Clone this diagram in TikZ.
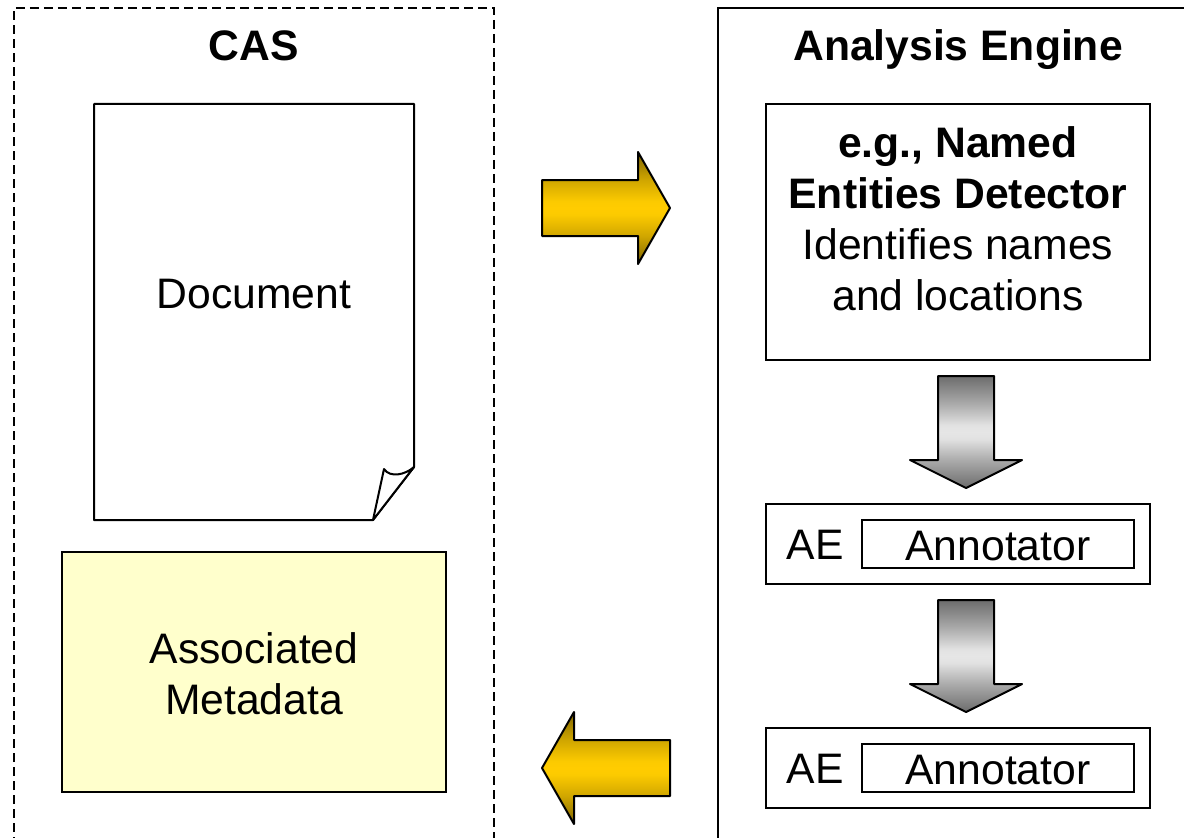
\documentclass[tikz,border=0pt]{standalone}
\usepackage{fontspec}
\setmainfont{Liberation Sans}
\definecolor{metafill}{HTML}{FFFFCC}
\definecolor{golddark}{HTML}{806600}
\definecolor{goldedge}{HTML}{D0A600}
\definecolor{goldnear}{HTML}{FCCA00}
\definecolor{goldmid}{HTML}{FFCC00}
\definecolor{greydark}{HTML}{6C6C6C}
\definecolor{greyedge}{HTML}{ABABAB}
\definecolor{greynear}{HTML}{E2E2E2}
\definecolor{greymid}{HTML}{E6E6E6}
\pgfdeclareverticalshading{goldshade}{100bp}{color(0bp)=(golddark); color(25bp)=(golddark); color(37.5bp)=(goldedge); color(47bp)=(goldnear); color(50bp)=(goldmid); color(53bp)=(goldnear); color(62.5bp)=(goldedge); color(75bp)=(golddark); color(100bp)=(golddark)}
\pgfdeclareverticalshading{greyshade}{100bp}{color(0bp)=(greydark); color(25bp)=(greydark); color(37.5bp)=(greyedge); color(47bp)=(greynear); color(50bp)=(greymid); color(53bp)=(greynear); color(62.5bp)=(greyedge); color(75bp)=(greydark); color(100bp)=(greydark)}
\tikzset{
  px/.style={x=0.75pt,y=-0.75pt},
  outline/.style={draw=black,line width=1.5pt},
  label/.style={font=\fontsize{32}{38.3}\selectfont,align=center,inner sep=0pt,text=black},
  title/.style={label,font=\fontsize{32}{38.3}\selectfont\bfseries},
  stagebox/.style={outline,fill=white,inner sep=0pt,minimum width=288pt},
  goldarrow/.style={outline,line join=round,shading=goldshade},
  greyarrow/.style={outline,line join=round,shading=greyshade},
  sheet/.style={outline,line join=round,fill=white},
  casframe/.style={draw=black,line width=1.5pt,dash pattern=on 6.4pt off 4.1pt},
}
\begin{document}
\begin{tikzpicture}[px]
\useasboundingbox (0,0) rectangle (1184,838);
\clip (0,0) rectangle (1184,838);
% frames
\draw[casframe] (14,860) -- (14,8) -- (494,8) -- (494,860);
\draw[outline] (718,860) -- (718,8) -- (1200,8);
\node[title] (castitle) at (254,46) {CAS};
\node[title] (aetitle) at (958,50) {Analysis Engine};
% document sheet
\draw[sheet] (94,104) -- (414,104) -- (414,467) -- (373,520) -- (94,520) -- cycle;
\draw[sheet] (373,520) -- (384,469) .. controls (390,478) and (405,475) .. (414,467) -- cycle;
\node[label] (doc) at (254,294) {Document};
% metadata
\node[outline,fill=metafill,minimum width=288pt,minimum height=180pt,inner sep=0pt] (meta) at (254,672) {};
\node[label] (metatext) at (254,674) {Associated\\Metadata};
% detector
\node[stagebox,minimum height=192pt] (detector) at (958,232) {};
\node[label] (detectortext) at (958,219) {\textbf{e.g., Named}\\\textbf{Entities Detector}\\Identifies names\\and locations};
% AE boxes
\node[stagebox,minimum height=60pt] (ae1) at (958,544) {};
\node[label] (ae1t) at (815,545) {AE};
\node[outline,inner sep=0pt,minimum width=204pt,minimum height=36pt] (ann1) at (998,544) {};
\node[label] (ann1t) at (998,546) {Annotator};
\node[stagebox,minimum height=60pt] (ae2) at (958,768) {};
\node[label] (ae2t) at (815,769) {AE};
\node[outline,inner sep=0pt,minimum width=204pt,minimum height=36pt] (ann2) at (998,768) {};
\node[label] (ann2t) at (998,770) {Annotator};
% block arrows
\path[goldarrow] (542,180) -- (638,180) -- (638,152) -- (670,208) -- (638,264) -- (638,236) -- (542,236) -- cycle;
\path[goldarrow] (670,740) -- (574,740) -- (574,712) -- (542,768) -- (574,824) -- (574,796) -- (670,796) -- cycle;
\path[greyarrow] (938,376) -- (994,376) -- (994,460) -- (1022,460) -- (966,488) -- (910,460) -- (938,460) -- cycle;
\path[greyarrow] (938,600) -- (994,600) -- (994,684) -- (1022,684) -- (966,712) -- (910,684) -- (938,684) -- cycle;
\end{tikzpicture}
\end{document}
